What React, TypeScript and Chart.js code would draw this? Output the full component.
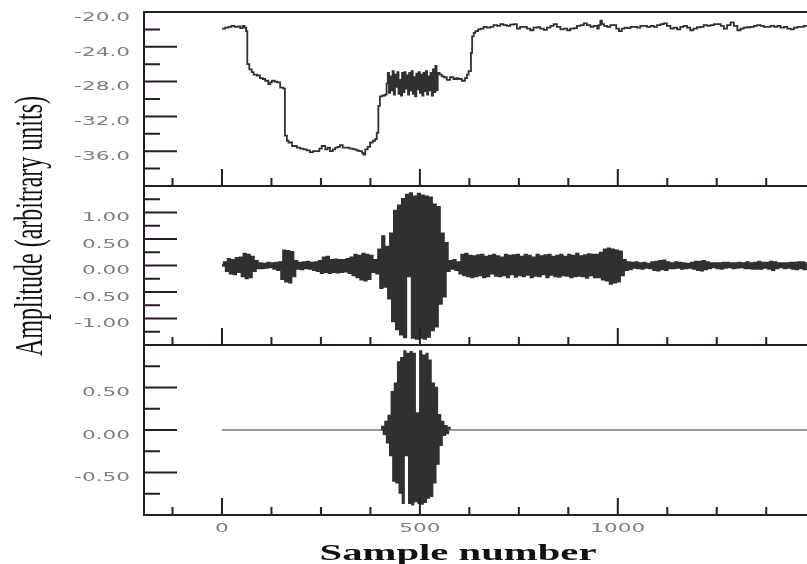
import React, { useEffect, useRef } from 'react';
import { Chart, registerables } from 'chart.js';

Chart.register(...registerables);

// ---------- axes / ticks ----------
const X_MIN = -197;
const X_MAX = 1478;
const X_MAJOR_TICKS = [0, 500, 1000];
const X_MINOR_TICKS = [-125, 125, 250, 375, 625, 750, 875, 1125, 1250, 1375];
const X_TICK_LABELS = ['0', '500', '1000'];

const TOP_Y_RANGE = [-40, -20];
const TOP_Y_TICKS = [-20, -24, -28, -32, -36];
const TOP_Y_LABELS = ['-20.0', '-24.0', '-28.0', '-32.0', '-36.0'];
const TOP_Y_MINOR = [-22, -26, -30, -34, -38];

const MID_Y_RANGE = [-1.5, 1.5];
const MID_Y_TICKS = [1, 0.5, 0, -0.5, -1];
const MID_Y_LABELS = ['1.00', '0.50', '0.00', '-0.50', '-1.00'];
const MID_Y_MINOR = [1.25, 0.75, 0.25, -0.25, -0.75, -1.25];

const BOT_Y_RANGE = [-1, 1];
const BOT_Y_TICKS = [0.5, 0, -0.5];
const BOT_Y_LABELS = ['0.50', '0.00', '-0.50'];
const BOT_Y_MINOR = [0.75, 0.25, -0.25, -0.75];

const X_TITLE = 'Sample number';
const Y_TITLE = 'Amplitude (arbitrary units)';

// ---------- top panel (level trace) ----------
const topSamples = [
  0, 8, 16, 24, 32, 40, 46, 52, 57, 61, 64, 69, 75, 80, 88, 96, 103, 109, 117, 122,
  126, 133, 139, 147, 155, 159, 164, 168, 177, 189, 198, 206, 214, 222, 230, 239, 246, 252, 261, 267,
  273, 280, 286, 292, 298, 305, 315, 322, 332, 340, 345, 354, 357, 362, 368, 374, 381, 387, 391, 395,
  399, 405, 412, 416,
  419, 422, 425, 428, 431, 434, 437, 440, 443, 446, 449, 452, 455, 458, 461, 464, 467, 470, 473, 476,
  479, 482, 485, 488, 491, 494, 497, 500, 503, 506, 509, 512, 515, 518, 521, 524, 527, 530, 533, 536,
  539, 542, 545,
  550, 555, 561, 568, 576, 585, 592, 597, 606, 614, 619, 623, 629, 632, 636, 640, 647, 653, 661, 669,
  678, 686, 695, 703, 711, 720, 728, 737, 745, 753, 762, 770, 779, 787, 796, 804, 813, 821, 830, 838,
  846, 855, 863, 872, 880, 889, 897, 906, 914, 922, 931, 939, 948, 952, 956, 960, 965, 973, 981, 990,
  996, 1003, 1010, 1017, 1024, 1032, 1040, 1049, 1057, 1066, 1074, 1083, 1091, 1099, 1108, 1116, 1124, 1133, 1141, 1150,
  1158, 1166, 1175, 1183, 1191, 1200, 1209, 1217, 1226, 1234, 1243, 1251, 1260, 1268, 1276, 1285, 1293, 1302, 1310, 1318,
  1327, 1335, 1344, 1352, 1361, 1369, 1377, 1386, 1395, 1403, 1411, 1420, 1428, 1437, 1445, 1454, 1462, 1470, 1478,
];
const topValues = [
  -21.9, -21.8, -21.7, -21.6, -21.7, -21.65, -21.85, -21.6, -21.8, -22.2, -26.0, -26.6, -26.9, -27.2, -27.3, -27.6, -27.7, -27.9, -28.3, -28.1,
  -27.9, -28.0, -28.1, -28.7, -28.8, -34.2, -34.8, -35.0, -35.4, -35.6, -35.7, -35.8, -35.9, -36.1, -36.0, -36.0, -35.7, -35.4, -35.8, -35.6,
  -36.0, -35.8, -35.6, -35.5, -35.3, -35.6, -35.6, -35.7, -35.8, -35.9, -36.0, -36.2, -36.4, -35.8, -35.5, -35.0, -34.8, -34.6, -33.9, -30.8,
  -29.7, -29.6, -29.5, -28.2,
  -27.0, -29.3, -27.4, -29.0, -26.8, -29.5, -27.2, -28.6, -26.9, -29.4, -27.8, -29.6, -27.0, -29.2, -26.9, -28.8, -27.3, -29.5, -27.0, -29.0,
  -26.8, -29.4, -27.5, -29.7, -27.1, -28.9, -26.9, -29.3, -27.2, -29.6, -27.0, -29.1, -26.8, -29.5, -27.4, -29.0, -27.0, -29.6, -26.6, -29.2,
  -26.2, -29.0, -27.0,
  -27.2, -27.4, -27.5, -27.8, -27.5, -27.7, -27.6, -27.7, -27.9, -27.6, -27.2, -26.8, -24.7, -22.8, -22.4, -22.2, -22.0, -21.9, -21.7, -21.8,
  -21.7, -21.5, -21.6, -21.4, -21.5, -21.6, -21.45, -21.4, -21.9, -21.7, -21.7, -21.9, -22.1, -21.8, -21.75, -21.9, -22.05, -21.8, -21.6, -21.4,
  -21.7, -22.0, -21.9, -22.1, -21.9, -21.85, -21.6, -21.5, -21.3, -21.5, -21.7, -21.6, -21.9, -21.5, -21.0, -21.4, -21.6, -21.7, -21.5, -21.5,
  -21.9, -22.2, -21.9, -21.8, -21.85, -21.7, -21.7, -21.8, -21.6, -21.6, -21.7, -21.6, -21.7, -21.5, -21.4, -21.3, -21.6, -21.9, -21.8, -22.0,
  -21.7, -21.6, -21.8, -22.1, -21.9, -21.75, -21.7, -21.5, -21.6, -21.5, -21.4, -21.4, -21.6, -21.9, -21.5, -21.2, -21.6, -22.1, -21.9, -21.8,
  -21.75, -21.7, -21.6, -21.5, -21.6, -21.7, -21.7, -21.6, -21.7, -21.6, -21.8, -21.7, -21.9, -22.0, -21.8, -21.7, -21.7, -21.6, -21.5,
];

// ---------- middle panel (oscillating signal, one value every MID_STEP samples) ----------
const MID_STEP = 5;
const midValues = [
  0, 0.06, -0.1, 0.12, -0.15, 0.1, -0.16, 0.14, -0.12, 0.15,
  -0.2, 0.22, -0.24, 0.2, -0.22, 0.16, -0.1, 0.08, -0.05, 0.04,
  -0.05, 0.03, -0.04, 0.05, -0.03, 0.04, -0.06, 0.05, -0.08, 0.06,
  -0.25, 0.28, -0.3, 0.27, -0.32, 0.25, -0.2, 0.08, -0.06, 0.05,
  -0.07, 0.06, -0.05, 0.07, -0.06, 0.05, -0.08, 0.06, -0.1, 0.08,
  -0.14, 0.15, -0.12, 0.16, -0.14, 0.1, -0.12, 0.11, -0.13, 0.1,
  -0.12, 0.1, -0.11, 0.12, -0.14, 0.15, -0.18, 0.2, -0.22, 0.18,
  -0.26, 0.22, -0.28, 0.2, -0.25, 0.18, -0.12, 0.1, -0.15, 0.3,
  -0.42, 0.55, -0.4, 0.35, -0.62, 0.6, -1.05, 1.03, -1.2, 1.13,
  -1.3, 1.25, -1.35, 1.33, -0.2, 1.36, -1.36, 1.3, -1.38, 1.35,
  -1.36, 1.32, -1.38, 1.3, -1.34, 1.28, -1.22, 1.15, -1.15, 1.1,
  -0.72, 0.6, -0.58, 0.42, -0.1, 0.08, -0.06, 0.1, -0.08, 0.06,
  -0.15, 0.2, -0.18, 0.22, -0.2, 0.18, -0.22, 0.17, -0.2, 0.19,
  -0.18, 0.2, -0.22, 0.16, -0.2, 0.18, -0.15, 0.2, -0.19, 0.17,
  -0.2, 0.15, -0.18, 0.2, -0.22, 0.18, -0.16, 0.19, -0.21, 0.2,
  -0.18, 0.16, -0.2, 0.2, -0.17, 0.18, -0.22, 0.15, -0.19, 0.2,
  -0.2, 0.17, -0.16, 0.19, -0.22, 0.2, -0.17, 0.16, -0.2, 0.18,
  -0.21, 0.2, -0.18, 0.16, -0.19, 0.2, -0.22, 0.18, -0.2, 0.22,
  -0.19, 0.17, -0.2, 0.19, -0.23, 0.21, -0.18, 0.2, -0.22, 0.2,
  -0.22, 0.24, -0.26, 0.3, -0.28, 0.32, -0.34, 0.3, -0.32, 0.28,
  -0.3, 0.26, -0.18, 0.1, -0.08, 0.06, -0.07, 0.05, -0.04, 0.06,
  -0.05, 0.04, -0.06, 0.05, -0.04, 0.03, -0.05, 0.06, -0.08, 0.07,
  -0.09, 0.08, -0.07, 0.09, -0.08, 0.06, -0.05, 0.04, -0.05, 0.06,
  -0.04, 0.05, -0.06, 0.04, -0.05, 0.03, -0.04, 0.05, -0.06, 0.07,
  -0.08, 0.07, -0.09, 0.08, -0.07, 0.06, -0.05, 0.04, -0.03, 0.04,
  -0.05, 0.04, -0.06, 0.05, -0.04, 0.05, -0.03, 0.04, -0.05, 0.04,
  -0.04, 0.05, -0.03, 0.04, -0.05, 0.06, -0.05, 0.04, -0.06, 0.05,
  -0.06, 0.07, -0.06, 0.05, -0.04, 0.05, -0.06, 0.07, -0.08, 0.06,
  -0.05, 0.04, -0.03, 0.04, -0.05, 0.04, -0.04, 0.05, -0.06, 0.05,
  -0.07, 0.06, -0.05, 0.06, -0.07, 0.06,
];

// ---------- bottom panel (extracted burst) ----------
const BOT_START = 400;
const BOT_STEP = 4;
const botValues = [
  0, 0.04, -0.05, 0.1, -0.15, 0.17, -0.3, 0.45, -0.6, 0.55,
  -0.62, 0.8, -0.74, 0.85, -0.86, 0.93, -0.3, 0.9, -0.86, 0.92,
  -0.88, 0.9, -0.84, 0.2, -0.86, 0.93, -0.87, 0.88, -0.85, 0.9,
  -0.8, 0.82, -0.78, 0.55, -0.62, 0.5, -0.4, 0.18, -0.18, 0.1,
  -0.06, 0.05, -0.04, 0.03, 0,
];
const baseSamples = [0, 404, 488, 572, 1478];
const baseValues = [0, 0, null, 0, 0];

// ---------- styling ----------
const W = 807;
const H = 564;
const PLOT_LEFT = 144;
const FRAME = '#2a1a2a';
const TRACE = '#303030';
const LABEL = '#7e7e7e';
const LABEL_FONT = '12px "DejaVu Sans"';
const LABEL_STRETCH = 1.8;

function stretchedText(ctx: CanvasRenderingContext2D, text: string, x: number, y: number, sx: number, align: CanvasTextAlign) {
  ctx.save();
  ctx.translate(x, y);
  ctx.scale(sx, 1);
  ctx.textAlign = align;
  ctx.textBaseline = 'alphabetic';
  ctx.fillText(text, 0, 0);
  ctx.restore();
}

const panelPlugin = {
  id: 'panelFrame',
  afterDatasetsDraw(chart: any, _args: any, opts: any) {
    const { ctx, chartArea: a, scales } = chart;
    const xs = scales.x;
    const ys = scales.y;
    ctx.save();
    ctx.strokeStyle = FRAME;
    ctx.lineWidth = 2;
    ctx.beginPath();
    ctx.moveTo(a.left, a.top - 1);
    ctx.lineTo(a.left, a.bottom + 1);
    ctx.moveTo(a.left, a.top);
    ctx.lineTo(a.right, a.top);
    ctx.moveTo(a.left, a.bottom);
    ctx.lineTo(a.right, a.bottom);
    // y ticks (inside)
    (opts.yMajor || []).forEach((v: number) => {
      const y = ys.getPixelForValue(v);
      ctx.moveTo(a.left, y);
      ctx.lineTo(a.left + 33, y);
    });
    (opts.yMinor || []).forEach((v: number) => {
      const y = ys.getPixelForValue(v);
      ctx.moveTo(a.left, y);
      ctx.lineTo(a.left + 16, y);
    });
    // x ticks (inside, at bottom)
    X_MAJOR_TICKS.forEach((v) => {
      const x = xs.getPixelForValue(v);
      ctx.moveTo(x, a.bottom);
      ctx.lineTo(x, a.bottom - 17);
    });
    X_MINOR_TICKS.forEach((v) => {
      const x = xs.getPixelForValue(v);
      ctx.moveTo(x, a.bottom);
      ctx.lineTo(x, a.bottom - 8);
    });
    ctx.stroke();

    // y tick labels
    ctx.fillStyle = LABEL;
    ctx.font = LABEL_FONT;
    (opts.yMajor || []).forEach((v: number, i: number) => {
      const y = ys.getPixelForValue(v);
      stretchedText(ctx, opts.yLabels[i], 130, y + 8.8, LABEL_STRETCH, 'right');
    });

    if (opts.showX) {
      X_MAJOR_TICKS.forEach((v, i) => {
        const x = xs.getPixelForValue(v);
        stretchedText(ctx, X_TICK_LABELS[i], x, 532, LABEL_STRETCH, 'center');
      });
      // axis titles
      ctx.fillStyle = '#111';
      ctx.font = 'bold 23px "Liberation Serif"';
      const wx = ctx.measureText(X_TITLE).width;
      stretchedText(ctx, X_TITLE, 458, 560, 277 / wx, 'center');

      ctx.font = '41px "Liberation Serif"';
      const wy = ctx.measureText(Y_TITLE).width;
      ctx.save();
      ctx.translate(42, 226);
      ctx.rotate(-Math.PI / 2);
      ctx.scale(260 / wy, 1);
      ctx.textAlign = 'center';
      ctx.textBaseline = 'alphabetic';
      ctx.fillText(Y_TITLE, 0, 0);
      ctx.restore();
    }
    ctx.restore();
  },
};

function makeChart(canvas: HTMLCanvasElement, datasets: any[], yRange: number[], top: number, bottom: number, frame: any) {
  return new Chart(canvas, {
    type: 'line',
    data: { datasets },
    options: {
      responsive: false,
      animation: false,
      events: [],
      parsing: false,
      normalized: true,
      layout: { padding: { left: PLOT_LEFT, right: 0, top, bottom: H - bottom } },
      plugins: {
        legend: { display: false },
        tooltip: { enabled: false },
        title: { display: false },
        panelFrame: frame,
      } as any,
      elements: { point: { radius: 0 }, line: { tension: 0 } },
      scales: {
        x: { type: 'linear', display: false, min: X_MIN, max: X_MAX },
        y: { type: 'linear', display: false, min: yRange[0], max: yRange[1] },
      },
    },
    plugins: [panelPlugin],
  } as any);
}

export default function App() {
  const c1 = useRef<HTMLCanvasElement>(null);
  const c2 = useRef<HTMLCanvasElement>(null);
  const c3 = useRef<HTMLCanvasElement>(null);

  useEffect(() => {
    const topData = topSamples.map((s, i) => ({ x: s, y: topValues[i] }));
    const midData = midValues.map((v, i) => ({ x: i * MID_STEP, y: v }));
    const botData = botValues.map((v, i) => ({ x: BOT_START + i * BOT_STEP, y: v }));
    const baseData = baseSamples.map((s, i) => ({ x: s, y: baseValues[i] }));

    const ch1 = makeChart(
      c1.current!,
      [{ data: topData, borderColor: TRACE, borderWidth: 1.8, stepped: true, fill: false }],
      TOP_Y_RANGE, 12, 186,
      { yMajor: TOP_Y_TICKS, yMinor: TOP_Y_MINOR, yLabels: TOP_Y_LABELS, showX: false },
    );
    const ch2 = makeChart(
      c2.current!,
      [{ data: midData, borderColor: TRACE, borderWidth: 2.3, stepped: true, fill: false }],
      MID_Y_RANGE, 186, 345,
      { yMajor: MID_Y_TICKS, yMinor: MID_Y_MINOR, yLabels: MID_Y_LABELS, showX: false },
    );
    const ch3 = makeChart(
      c3.current!,
      [
        { data: baseData, borderColor: '#7a7a7a', borderWidth: 1.3, fill: false, spanGaps: false },
        { data: botData, borderColor: TRACE, borderWidth: 1.6, stepped: true, fill: false },
      ],
      BOT_Y_RANGE, 345, 515,
      { yMajor: BOT_Y_TICKS, yMinor: BOT_Y_MINOR, yLabels: BOT_Y_LABELS, showX: true },
    );
    return () => {
      ch1.destroy();
      ch2.destroy();
      ch3.destroy();
    };
  }, []);

  const cs: React.CSSProperties = { position: 'absolute', left: 0, top: 0, width: W, height: H };
  return (
    <div style={{ position: 'absolute', left: 0, top: 0, width: W, height: H, background: '#fff', overflow: 'hidden' }}>
      <canvas ref={c1} width={W} height={H} style={cs} />
      <canvas ref={c2} width={W} height={H} style={cs} />
      <canvas ref={c3} width={W} height={H} style={cs} />
    </div>
  );
}
